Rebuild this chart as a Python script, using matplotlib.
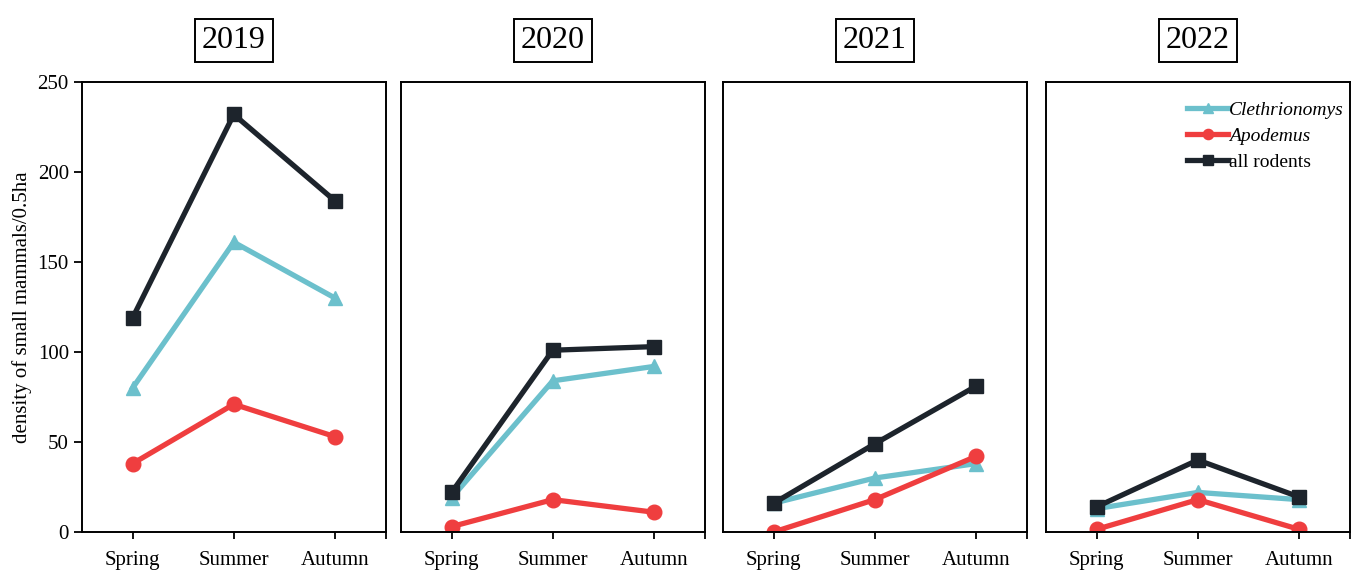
import matplotlib
matplotlib.use("Agg")
import matplotlib.pyplot as plt

plt.rcParams["font.family"] = ["Liberation Serif", "DejaVu Serif"]

# data
years = ["2019", "2020", "2021", "2022"]
seasons = ["Spring", "Summer", "Autumn"]
clethrionomys = [
    [80, 161, 130],
    [19, 84, 92],
    [16, 30, 38],
    [13, 22, 18],
]
apodemus = [
    [38, 71, 53],
    [3, 18, 11],
    [0, 18, 42],
    [1.5, 18, 1.5],
]
all_rodents = [
    [119, 232, 184],
    [22, 101, 103],
    [16, 49, 81],
    [14, 40, 19.5],
]

c_cleth = "#6cc0cc"
c_apod = "#ef3e3f"
c_all = "#1d242c"

fig = plt.figure(figsize=(13.58, 5.72), dpi=100)
lefts = [0.0604, 0.2953, 0.5324, 0.7703]
width = 0.2235
bottom, height = 0.0699, 0.7867

x = list(range(1, len(seasons) + 1))
for i, year in enumerate(years):
    ax = fig.add_axes([lefts[i], bottom, width, height])
    ax.plot(x, clethrionomys[i], "-^", color=c_cleth, lw=3.8, ms=10,
            label="Clethrionomys")
    ax.plot(x, apodemus[i], "-o", color=c_apod, lw=3.8, ms=10.5,
            label="Apodemus")
    ax.plot(x, all_rodents[i], "-s", color=c_all, lw=3.8, ms=10,
            label="all rodents")
    ax.set_xlim(0.5, 3.5)
    ax.set_ylim(0, 250)
    ax.set_xticks(x + [3.5])
    ax.set_xticklabels(seasons + [""], fontsize=15)
    ax.tick_params(axis="x", length=5, width=1.3, pad=9)
    if i == 0:
        ax.set_yticks([0, 50, 100, 150, 200, 250])
        ax.tick_params(axis="y", labelsize=15, length=6, width=1.3)
        ax.set_ylabel("density of small mammals/0.5ha", fontsize=15, labelpad=4)
    else:
        ax.set_yticks([])
    for sp in ax.spines.values():
        sp.set_linewidth(1.4)
    ax.text(0.5, 1.093, year, transform=ax.transAxes, ha="center", va="center",
            fontsize=23,
            bbox=dict(boxstyle="square,pad=0.22", fc="white", ec="black", lw=1.4))
    if i == len(years) - 1:
        leg = ax.legend(loc="upper right", bbox_to_anchor=(1.02, 0.984),
                        frameon=False, fontsize=14,
                        handlelength=2.1, handletextpad=0.05, labelspacing=0.45,
                        borderaxespad=0.2, markerscale=0.7)
        for t in leg.get_texts()[:2]:
            t.set_style("italic")

fig.savefig("out.png", dpi=100)
